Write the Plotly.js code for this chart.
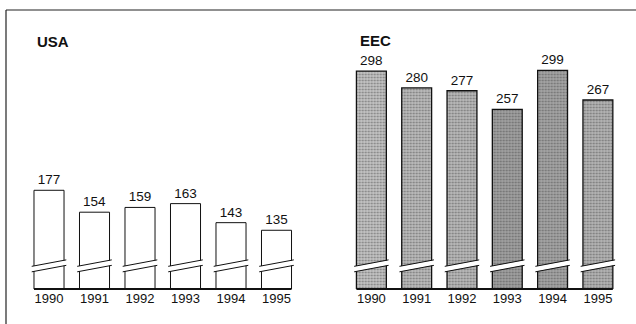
<!DOCTYPE html>
<html>
<head>
<meta charset="utf-8">
<script src="https://cdn.plot.ly/plotly-3.0.1.min.js"></script>
<style>
  html, body { margin: 0; padding: 0; background: #fff; }
  #chart { width: 636px; height: 324px; }
</style>
</head>
<body>
<div id="chart"></div>
<script>
// Year categories shared by both panels
const years = ['1990', '1991', '1992', '1993', '1994', '1995'];

// Values per region
const usaValues = [177, 154, 159, 163, 143, 135];
const eecValues = [298, 280, 277, 257, 299, 267];

// Panel headings
const usaTitle = 'USA';
const eecTitle = 'EEC';

const FONT = 'Liberation Sans, Arial, Helvetica, sans-serif';
const BAR_W = 0.66;             // bar width in category units
const BREAK_EXT = 0.05;         // how far the axis-break mark pokes out past the bar
// base tones of the stippled EEC bars
const eecShades = ['#c6c6c6', '#bdbdbd', '#bbbbbb', '#a2a2a2', '#a6a6a6', '#b6b6b6'];

function barTrace(values, xa, ya, filled) {
  return {
    type: 'bar',
    x: years,
    y: values,
    xaxis: xa,
    yaxis: ya,
    width: BAR_W,
    text: values.map(String),
    textposition: 'outside',
    cliponaxis: false,
    textfont: { family: FONT, size: 13.5, color: '#111' },
    hoverinfo: 'x+y',
    marker: filled ? {
      color: eecShades,
      line: { color: '#111', width: 1.3 },
      pattern: { shape: '.', fillmode: 'overlay', fgcolor: '#555555', fgopacity: 0.55, size: 3, solidity: 0.35 }
    } : {
      color: '#ffffff',
      line: { color: '#111', width: 1 }
    }
  };
}

// Broken-axis marks drawn across every bar, plus the baseline under each panel
function breakShapes(n, xref, yref) {
  const shapes = [];
  const yd = yref + ' domain';
  for (let i = 0; i < n; i++) {
    const x0 = i - BAR_W / 2 - BREAK_EXT;
    const x1 = i + BAR_W / 2 + BREAK_EXT;
    // white gap
    shapes.push({ type: 'line', xref: xref, yref: yd, x0: x0, x1: x1, y0: 0.080, y1: 0.106,
                  line: { color: '#ffffff', width: 5 } });
    // gap edges
    shapes.push({ type: 'line', xref: xref, yref: yd, x0: x0, x1: x1, y0: 0.069, y1: 0.095,
                  line: { color: '#111', width: 1 } });
    shapes.push({ type: 'line', xref: xref, yref: yd, x0: x0, x1: x1, y0: 0.091, y1: 0.117,
                  line: { color: '#111', width: 1 } });
  }
  shapes.push({ type: 'line', xref: xref, yref: yd, x0: -BAR_W / 2, x1: n - 1 + BAR_W / 2, y0: 0, y1: 0,
                line: { color: '#111', width: 2 } });
  return shapes;
}

const yDomain = [1 - 289 / 324, 1 - 40 / 324];

const xCommon = {
  type: 'category',
  range: [-0.42, 5.42],
  showline: false, showgrid: false, zeroline: false,
  ticks: '',
  tickfont: { family: FONT, size: 13, color: '#111' },
  fixedrange: true
};
const yCommon = {
  domain: yDomain,
  showline: false, showgrid: false, zeroline: false,
  showticklabels: false, ticks: '',
  fixedrange: true
};

const layout = {
  width: 636,
  height: 324,
  margin: { l: 0, r: 0, t: 0, b: 0 },
  paper_bgcolor: '#ffffff',
  plot_bgcolor: 'rgba(0,0,0,0)',
  showlegend: false,
  bargap: 0.34,
  xaxis: Object.assign({}, xCommon, { domain: [0.047, 0.4648], anchor: 'y' }),
  yaxis: Object.assign({}, yCommon, { range: [73.3, 334.9], anchor: 'x' }),
  xaxis2: Object.assign({}, xCommon, { domain: [0.554, 0.970], anchor: 'y2' }),
  yaxis2: Object.assign({}, yCommon, { range: [63.6, 331.6], anchor: 'x2' }),
  annotations: [
    { text: '<b>' + usaTitle + '</b>', xref: 'paper', yref: 'paper', x: 35 / 636, y: 1 - 41 / 324,
      xanchor: 'left', yanchor: 'middle', showarrow: false,
      font: { family: FONT, size: 15, color: '#111' } },
    { text: '<b>' + eecTitle + '</b>', xref: 'paper', yref: 'paper', x: 358 / 636, y: 1 - 40 / 324,
      xanchor: 'left', yanchor: 'middle', showarrow: false,
      font: { family: FONT, size: 15, color: '#111' } }
  ],
  shapes: [].concat(
    breakShapes(years.length, 'x', 'y'),
    breakShapes(years.length, 'x2', 'y2'),
    [
      // outer frame: top and left rules
      { type: 'line', xref: 'paper', yref: 'paper', x0: 6 / 636, x1: 1, y0: 1 - 10 / 324, y1: 1 - 10 / 324,
        line: { color: '#222', width: 1.2 } },
      { type: 'line', xref: 'paper', yref: 'paper', x0: 6 / 636, x1: 6 / 636, y0: 0, y1: 1 - 10 / 324,
        line: { color: '#222', width: 1.2 } }
    ]
  )
};

Plotly.newPlot('chart', [
  barTrace(usaValues, 'x', 'y', false),
  barTrace(eecValues, 'x2', 'y2', true)
], layout, { displayModeBar: false, staticPlot: true });
</script>
</body>
</html>
